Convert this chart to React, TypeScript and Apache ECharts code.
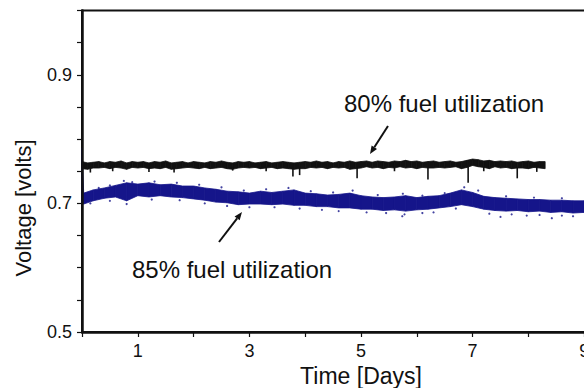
import React, { useEffect, useRef } from "react";
import * as echarts from "echarts";

// ---- tick labels ----
const xTickLabels = [1, 3, 5, 7, 9];
const yTickLabels = [0.5, 0.7, 0.9];

// ---- 80% fuel utilization (black trace: lower / upper edge of the noise band) ----
const blackDays = [
  0.0, 0.1, 0.2, 0.3, 0.4, 0.5, 0.6, 0.7, 0.8, 0.9,
  1.0, 1.1, 1.2, 1.3, 1.4, 1.5, 1.6, 1.7, 1.8, 1.9,
  2.0, 2.1, 2.2, 2.3, 2.4, 2.5, 2.6, 2.7, 2.8, 2.9,
  3.0, 3.1, 3.2, 3.3, 3.4, 3.5, 3.6, 3.7, 3.8, 3.9,
  4.0, 4.1, 4.2, 4.3, 4.4, 4.5, 4.6, 4.7, 4.8, 4.9,
  5.0, 5.1, 5.2, 5.3, 5.4, 5.5, 5.6, 5.7, 5.8, 5.9,
  6.0, 6.1, 6.2, 6.3, 6.4, 6.5, 6.6, 6.7, 6.8, 6.9,
  7.0, 7.1, 7.2, 7.3, 7.4, 7.5, 7.6, 7.7, 7.8, 7.9,
  8.0, 8.1, 8.2, 8.3,
];
const blackUpper = [
  0.765, 0.763, 0.764, 0.765, 0.763, 0.765, 0.764, 0.766, 0.763, 0.765,
  0.764, 0.765, 0.763, 0.765, 0.764, 0.766, 0.763, 0.764, 0.765, 0.763,
  0.765, 0.764, 0.763, 0.765, 0.764, 0.766, 0.764, 0.763, 0.765, 0.764,
  0.765, 0.763, 0.764, 0.765, 0.763, 0.764, 0.765, 0.764, 0.763, 0.764,
  0.765, 0.764, 0.766, 0.764, 0.765, 0.763, 0.765, 0.764, 0.766, 0.764,
  0.765, 0.766, 0.764, 0.766, 0.765, 0.764, 0.766, 0.765, 0.767, 0.765,
  0.766, 0.764, 0.765, 0.766, 0.764, 0.765, 0.766, 0.764, 0.765, 0.767,
  0.769, 0.768, 0.766, 0.767, 0.765, 0.766, 0.765, 0.766, 0.764, 0.765,
  0.766, 0.764, 0.765, 0.765,
];
const blackLower = [
  0.754, 0.753, 0.755, 0.755, 0.756, 0.754, 0.756, 0.755, 0.753, 0.756,
  0.755, 0.756, 0.754, 0.755, 0.754, 0.756, 0.753, 0.754, 0.755, 0.756,
  0.755, 0.754, 0.756, 0.754, 0.755, 0.756, 0.754, 0.753, 0.755, 0.756,
  0.755, 0.756, 0.754, 0.755, 0.756, 0.754, 0.755, 0.754, 0.753, 0.754,
  0.754, 0.756, 0.755, 0.756, 0.754, 0.756, 0.755, 0.756, 0.753, 0.754,
  0.755, 0.757, 0.755, 0.756, 0.754, 0.756, 0.755, 0.757, 0.755, 0.756,
  0.754, 0.756, 0.755, 0.755, 0.756, 0.755, 0.756, 0.757, 0.754, 0.756,
  0.759, 0.757, 0.756, 0.754, 0.757, 0.755, 0.756, 0.754, 0.755, 0.755,
  0.754, 0.756, 0.755, 0.754,
];
// downward spikes of the 80% trace
const blackSpikeDays = [0.15, 0.55, 1.2, 1.65, 2.7, 3.3, 3.78, 3.9, 4.93, 5.6, 6.2, 6.92, 7.2, 7.8, 8.15];
const blackSpikeVolts = [0.748, 0.750, 0.749, 0.748, 0.751, 0.750, 0.742, 0.744, 0.739, 0.750, 0.737, 0.732, 0.750, 0.739, 0.749];

// ---- 85% fuel utilization (blue point cloud: lower / upper edge of the band) ----
const blueDays = [
  0, 0.03, 0.2, 0.4, 0.6, 0.8, 1.0, 1.2, 1.4, 1.6, 1.8, 2.0, 2.2, 2.4, 2.6, 2.8,
  3.0, 3.2, 3.4, 3.6, 3.8, 4.0, 4.2, 4.4, 4.6, 4.8, 5.0, 5.2, 5.4, 5.6, 5.8,
  6.0, 6.2, 6.4, 6.6, 6.8, 7.0, 7.2, 7.4, 7.6, 7.8, 8.0, 8.2, 8.4, 8.6, 8.8,
  9.0, 9.2, 9.4, 9.6,
];
const blueLower = [
  0.700, 0.699, 0.704, 0.708, 0.710, 0.704, 0.712, 0.710, 0.712, 0.710, 0.709, 0.707, 0.705, 0.702, 0.701, 0.698,
  0.699, 0.699, 0.698, 0.699, 0.697, 0.697, 0.695, 0.695, 0.693, 0.693, 0.691, 0.691, 0.689, 0.690, 0.688,
  0.690, 0.691, 0.693, 0.695, 0.698, 0.695, 0.691, 0.689, 0.688, 0.689, 0.687, 0.688, 0.686, 0.687, 0.685,
  0.686, 0.684, 0.685, 0.684,
];
const blueUpper = [
  0.786, 0.716, 0.721, 0.724, 0.728, 0.732, 0.730, 0.732, 0.729, 0.730, 0.727, 0.727, 0.724, 0.722, 0.719, 0.718,
  0.716, 0.719, 0.717, 0.719, 0.721, 0.716, 0.715, 0.713, 0.714, 0.716, 0.712, 0.710, 0.709, 0.710, 0.712,
  0.709, 0.711, 0.712, 0.716, 0.721, 0.717, 0.711, 0.709, 0.708, 0.707, 0.706, 0.706, 0.705, 0.705, 0.704,
  0.704, 0.703, 0.703, 0.702,
];
// scattered points along the fuzzy edges of the 85% cloud
const blueDotDays = [
  0.3, 0.5, 0.75, 0.9, 1.3, 1.7, 2.1, 2.5, 2.9, 3.3, 3.7, 4.1, 4.5, 4.85, 5.3, 5.75, 6.1, 6.5, 6.85, 7.1, 7.6, 8.1, 8.6, 9.2,
  0.15, 0.5, 0.8, 1.25, 1.75, 2.2, 2.6, 3.0, 3.45, 3.9, 4.3, 4.6, 5.1, 5.45, 5.74, 5.78, 6.1, 6.3, 6.7, 7.3, 7.5, 7.7, 7.97, 8.2, 8.42, 8.6, 8.8, 9.1, 9.4,
];
const blueDotVolts = [
  0.724, 0.728, 0.735, 0.733, 0.734, 0.732, 0.729, 0.725, 0.720, 0.722, 0.724, 0.719, 0.717, 0.720, 0.713, 0.715, 0.712, 0.716, 0.725, 0.720, 0.711, 0.709, 0.708, 0.706,
  0.700, 0.704, 0.699, 0.706, 0.705, 0.700, 0.696, 0.694, 0.694, 0.692, 0.690, 0.688, 0.686, 0.685, 0.680, 0.683, 0.685, 0.686, 0.692, 0.684, 0.679, 0.683, 0.681, 0.682, 0.677, 0.681, 0.680, 0.679, 0.680,
];

const FONT = '"Liberation Sans", Arial, Helvetica, sans-serif';
const BLUE = "#15158a";
const INK = "#111111";

export default function App() {
  const ref = useRef<HTMLDivElement>(null);

  useEffect(() => {
    if (!ref.current) return;
    const chart = echarts.init(ref.current, undefined, { renderer: "svg" });

    // one quad per consecutive pair of band samples: [x0, lo0, hi0, x1, lo1, hi1]
    const quads = (days: number[], lo: number[], hi: number[]) =>
      days.slice(0, -1).map((d, i) => [d, lo[i], hi[i], days[i + 1], lo[i + 1], hi[i + 1]]);
    const blueBand = quads(blueDays, blueLower, blueUpper);
    const blackBand = quads(blackDays, blackLower, blackUpper);
    const spikes = blackSpikeDays.map((d, i) => [d, 0.757, blackSpikeVolts[i]]);
    const dots = blueDotDays.map((d, i) => [d, blueDotVolts[i]]);

    const bandRender = (color: string) => (_params: any, api: any) => {
      const p1 = api.coord([api.value(0), api.value(2)]);
      const p2 = api.coord([api.value(3), api.value(5)]);
      const p3 = api.coord([api.value(3), api.value(4)]);
      const p4 = api.coord([api.value(0), api.value(1)]);
      return {
        type: "polygon",
        shape: { points: [p1, p2, p3, p4] },
        style: { fill: color, stroke: color, lineWidth: 0.8 },
      };
    };

    const arrow = (x1: number, y1: number, x2: number, y2: number) => {
      const dx = x2 - x1;
      const dy = y2 - y1;
      const len = Math.sqrt(dx * dx + dy * dy);
      const ux = dx / len;
      const uy = dy / len;
      const hl = 8;
      const hw = 3.2;
      const bx = x2 - ux * hl;
      const by = y2 - uy * hl;
      return [
        { type: "line", shape: { x1, y1, x2: bx, y2: by }, style: { stroke: INK, lineWidth: 2 } },
        {
          type: "polygon",
          shape: { points: [[x2, y2], [bx - uy * hw, by + ux * hw], [bx + uy * hw, by - ux * hw]] },
          style: { fill: INK },
        },
      ];
    };

    const textStyle = (text: string, size: number, align: string) => ({
      text,
      font: `${size}px ${FONT}`,
      fill: INK,
      textAlign: align,
      textVerticalAlign: "middle",
      align,
      verticalAlign: "middle",
    });

    chart.setOption({
      animation: false,
      backgroundColor: "#ffffff",
      grid: {
        left: 82,
        top: 10.5,
        width: 558,
        height: 321.5,
        outerBoundsMode: "none",
        containLabel: false,
        show: true,
        borderColor: INK,
        borderWidth: 2,
        backgroundColor: "transparent",
      },
      xAxis: {
        type: "value",
        min: 0,
        max: 10,
        interval: 1,
        z: 10,
        name: "Time [Days]",
        nameLocation: "middle",
        nameGap: 32,
        nameTextStyle: { fontFamily: FONT, fontSize: 23, color: INK },
        axisLine: { show: true, onZero: false, lineStyle: { color: INK, width: 2.5 } },
        axisTick: { show: true, inside: false, length: 5, lineStyle: { color: INK, width: 1.2 } },
        axisLabel: {
          fontFamily: FONT,
          fontSize: 18,
          color: INK,
          margin: 10,
          formatter: (v: number) => {
            const r = Math.round(v);
            return Math.abs(v - r) < 1e-6 && xTickLabels.includes(r) ? String(r) : "";
          },
        },
        splitLine: { show: false },
      },
      yAxis: {
        type: "value",
        min: 0.5,
        max: 1.0,
        interval: 0.05,
        z: 10,
        axisLine: { show: true, onZero: false, lineStyle: { color: INK, width: 2.5 } },
        axisTick: { show: true, inside: false, length: 5, lineStyle: { color: INK, width: 1.2 } },
        axisLabel: {
          fontFamily: FONT,
          fontSize: 18,
          color: INK,
          margin: 10,
          formatter: (v: number) => {
            const r = Math.round(v * 100) / 100;
            return yTickLabels.includes(r) ? r.toFixed(1) : "";
          },
        },
        splitLine: { show: false },
      },
      series: [
        {
          name: "85% fuel utilization",
          type: "custom",
          data: blueBand,
          encode: { x: [0, 3], y: [1, 2, 4, 5] },
          silent: true,
          z: 3,
          renderItem: bandRender(BLUE),
        },
        {
          name: "85% points",
          type: "scatter",
          data: dots,
          symbolSize: 2.2,
          itemStyle: { color: BLUE },
          silent: true,
          z: 4,
        },
        {
          name: "80% fuel utilization",
          type: "custom",
          data: blackBand,
          encode: { x: [0, 3], y: [1, 2, 4, 5] },
          silent: true,
          z: 5,
          renderItem: bandRender(INK),
        },
        {
          name: "80% spikes",
          type: "custom",
          data: spikes,
          encode: { x: 0, y: [1, 2] },
          silent: true,
          z: 5,
          renderItem: (_params: any, api: any) => {
            const a = api.coord([api.value(0), api.value(1)]);
            const b = api.coord([api.value(0), api.value(2)]);
            return {
              type: "line",
              shape: { x1: a[0], y1: a[1], x2: b[0], y2: b[1] },
              style: { stroke: INK, lineWidth: 1.6 },
            };
          },
        },
      ],
      graphic: [
        { type: "text", x: 23, y: 208, rotation: Math.PI / 2, style: textStyle("Voltage [volts]", 22, "center"), z: 10 },
        { type: "text", x: 344, y: 103, style: textStyle("80% fuel utilization", 24, "left"), z: 10 },
        { type: "text", x: 132, y: 269, style: textStyle("85% fuel utilization", 24, "left"), z: 10 },
        ...arrow(388, 126, 370, 154),
        ...arrow(219, 242, 242, 212),
      ],
    });

    return () => chart.dispose();
  }, []);

  return (
    <div
      ref={ref}
      style={{ position: "absolute", left: 0, top: 0, width: 584, height: 388, overflow: "hidden", background: "#fff" }}
    />
  );
}
